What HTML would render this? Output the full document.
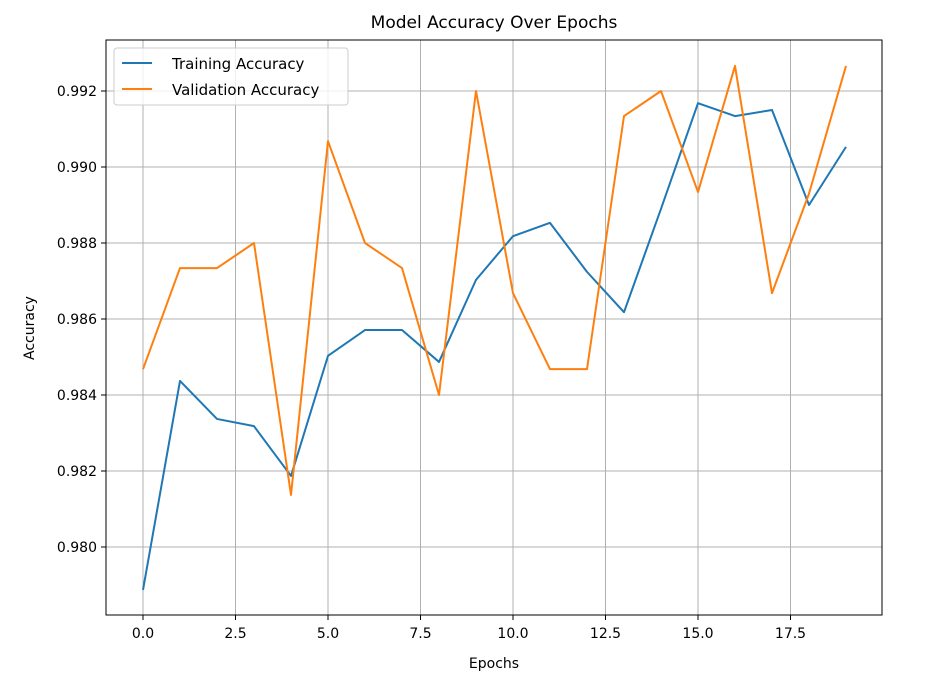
<!DOCTYPE html>
<html><head><meta charset="utf-8"><style>
body{margin:0;background:#fff;font-family:"Liberation Sans","DejaVu Sans",sans-serif;}
</style></head><body>
<svg id="chart" width="940" height="681" xmlns="http://www.w3.org/2000/svg" font-family="'DejaVu Sans','Liberation Sans',sans-serif">
<rect width="940" height="681" fill="#fff"/>
<text x="494" y="28" text-anchor="middle" font-size="17">Model Accuracy Over Epochs</text>
<text x="494" y="668" text-anchor="middle" font-size="14">Epochs</text>
<text x="34" y="328" text-anchor="middle" font-size="14" transform="rotate(-90 34 328)">Accuracy</text>
<g id="grid"></g>
<g id="series"></g>
<rect x="106" y="40" width="776" height="575" fill="none" stroke="#000" stroke-width="1"/>
<g id="ticks"></g>
<g>
<rect x="114" y="48" width="234" height="57" rx="3" fill="#fff" fill-opacity="0.8" stroke="#ccc"/>
<line x1="122" y1="63" x2="152" y2="63" stroke="#1f77b4" stroke-width="2"/>
<text x="172" y="69" font-size="15">Training Accuracy</text>
<line x1="122" y1="89" x2="152" y2="89" stroke="#ff7f0e" stroke-width="2"/>
<text x="172" y="95" font-size="15">Validation Accuracy</text>
</g>
</svg>
<script>
const epochs=[0,1,2,3,4,5,6,7,8,9,10,11,12,13,14,15,16,17,18,19];
const trainAcc=[0.97887,0.98437,0.98337,0.98318,0.98187,0.98503,0.98571,0.98571,0.98487,0.98703,0.98818,0.98853,0.98724,0.98618,0.9889,0.99168,0.99134,0.9915,0.9890,0.99053];
const valAcc=[0.98468,0.98734,0.98734,0.988,0.98137,0.99068,0.988,0.98734,0.984,0.992,0.98668,0.98468,0.98468,0.99134,0.992,0.98934,0.99266,0.98668,0.9893,0.99266];
const xTicks=[0,2.5,5,7.5,10,12.5,15,17.5];
const yTicks=[0.980,0.982,0.984,0.986,0.988,0.990,0.992];
const NS="http://www.w3.org/2000/svg";
function xs(v){return 143+v*37;}
function ys(v){return 547-(v-0.980)*38000;}
const grid=document.getElementById('grid'),ticks=document.getElementById('ticks'),series=document.getElementById('series');
function mk(tag,attrs,parent){const e=document.createElementNS(NS,tag);for(const k in attrs)e.setAttribute(k,attrs[k]);parent.appendChild(e);return e;}
xTicks.forEach(t=>{
 const x=xs(t);
 const g=mk('line',{x1:x,x2:x,y1:40,y2:615,stroke:'#b0b0b0','stroke-width':1},grid);
 
 
 mk('line',{x1:x,x2:x,y1:615,y2:620,stroke:'#000'},ticks);
 const tx=mk('text',{x:x,y:638,'text-anchor':'middle','font-size':14},ticks);
 tx.textContent=t.toFixed(1);
 
 
});
yTicks.forEach(t=>{
 const y=ys(t);
 const g=mk('line',{x1:106,x2:882,y1:y,y2:y,stroke:'#b0b0b0','stroke-width':1},grid);
 
 
 mk('line',{x1:101,x2:106,y1:y,y2:y,stroke:'#000'},ticks);
 const tx=mk('text',{x:97,y:y+5,'text-anchor':'end','font-size':14},ticks);
 tx.textContent=t.toFixed(3);
 
 
});
function line(vals,color,name){
 const p=mk('polyline',{points:vals.map((v,i)=>xs(epochs[i])+','+ys(v)).join(' '),fill:'none',stroke:color,'stroke-width':2,'stroke-linejoin':'round'},series);
 
 
}
line(trainAcc,'#1f77b4','training-accuracy-line');
line(valAcc,'#ff7f0e','validation-accuracy-line');
</script>
</body></html>
